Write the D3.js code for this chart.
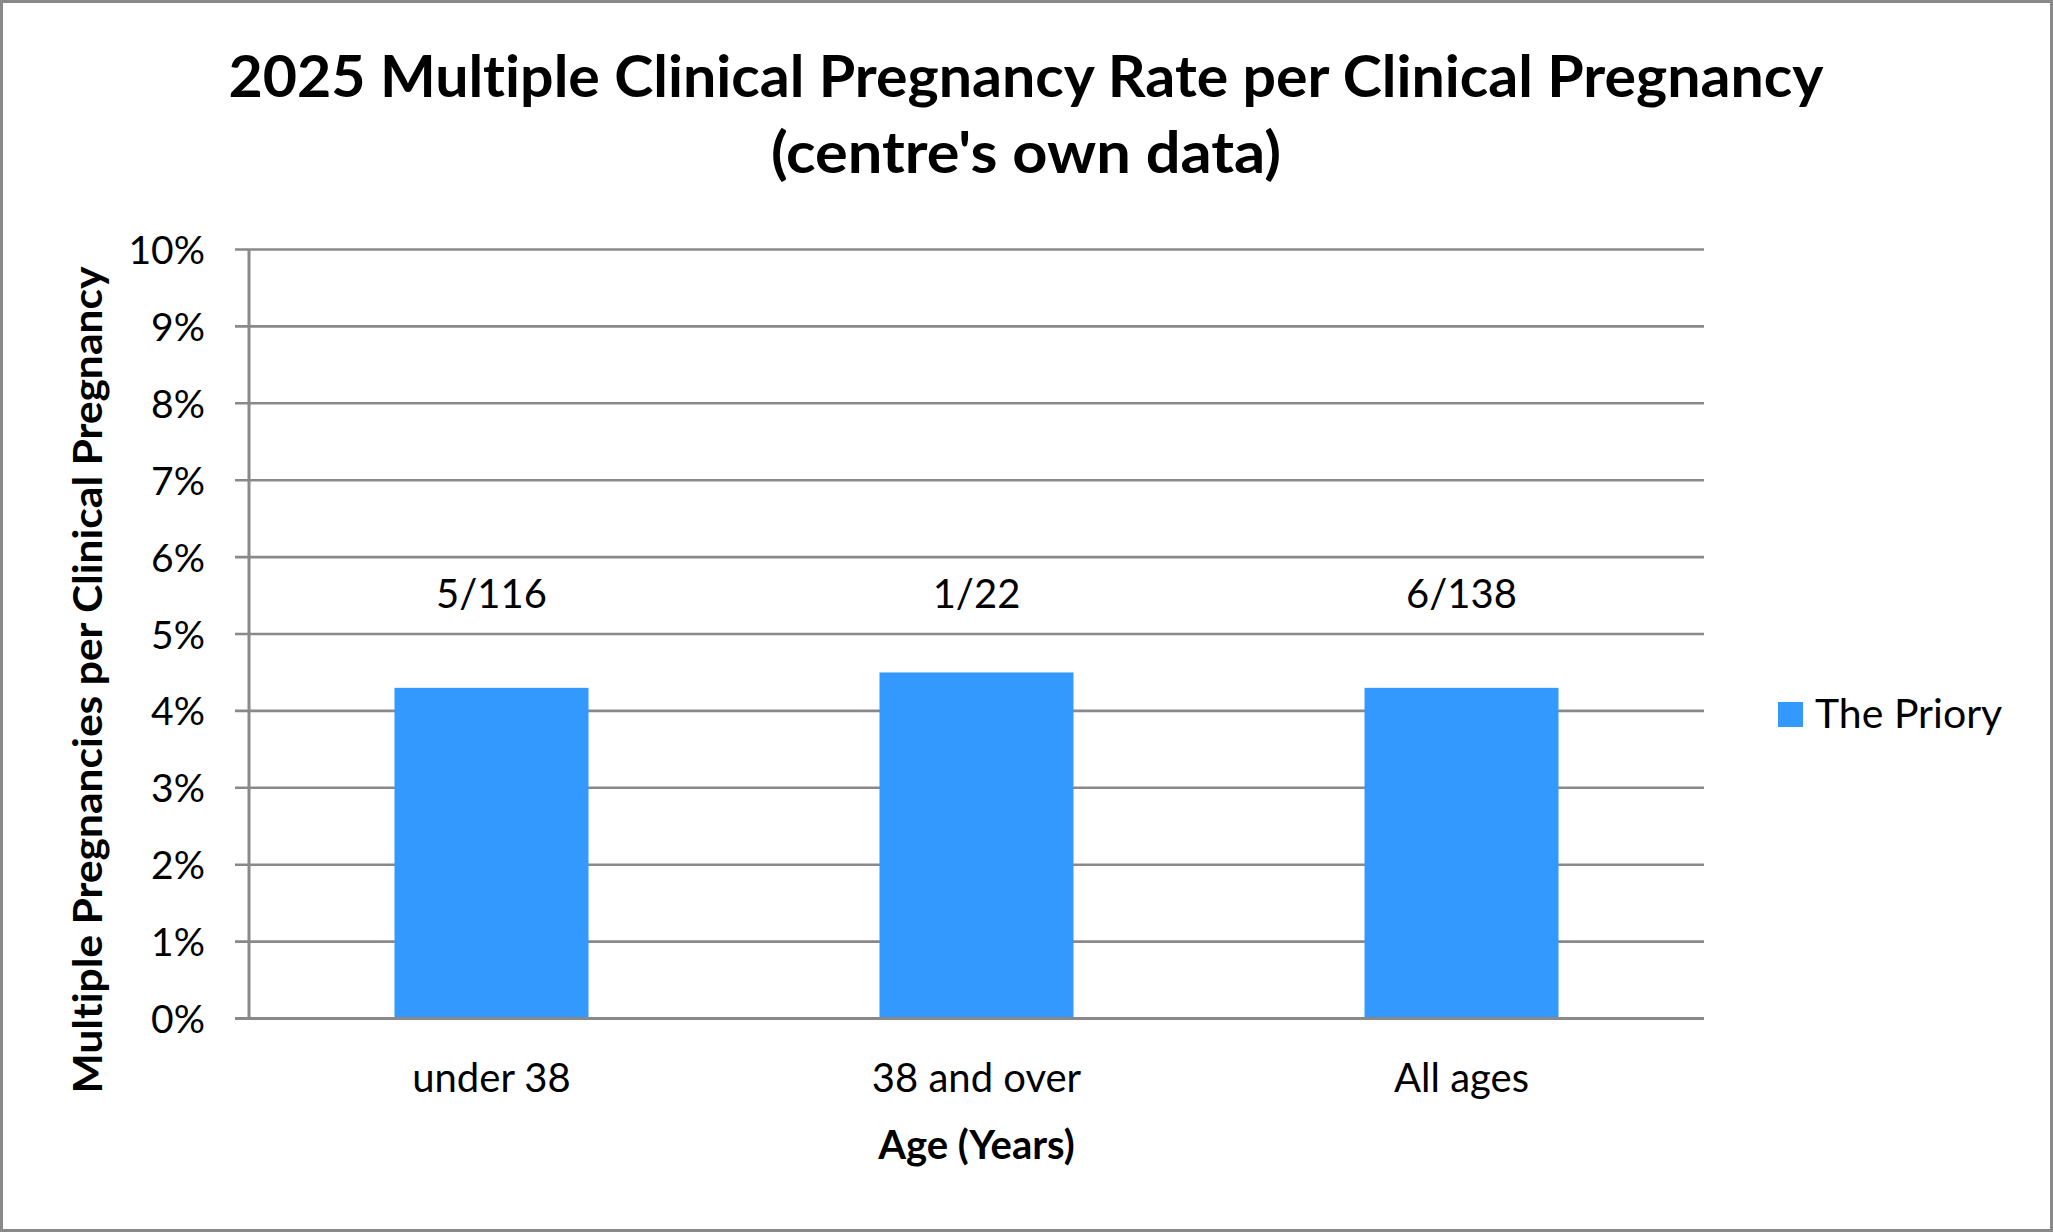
<!DOCTYPE html>
<meta charset="utf-8">
<style>
body {
  margin: 0;
  background: #fff;
}
svg text {
  font-family: Lato, Carlito, Calibri, sans-serif;
  font-variant-ligatures: none;
  fill: #000;
}
.grid line {
  stroke: #898989;
  stroke-width: 2.6;
}
.title {
  font-weight: 700;
  font-size: 58px;
}
.axis-title {
  font-weight: 700;
  font-size: 40px;
}
</style>
<body>
<svg width="2053" height="1232"></svg>
<script src="https://cdn.jsdelivr.net/npm/d3@7"></script>
<script>

// values
var categories = ["under 38", "38 and over", "All ages"];
var rates = [4.3, 4.5, 4.3];              // percent
var fractionLabels = ["5/116", "1/22", "6/138"];
var yTicks = [0, 1, 2, 3, 4, 5, 6, 7, 8, 9, 10];
var seriesName = "The Priory";

var svg = d3.select("svg"),
    width = +svg.attr("width"),
    height = +svg.attr("height");

var plotLeft = 249, plotRight = 1704, plotTop = 249.5, plotBottom = 1018.5;
var barColor = "#3399ff";
var gridColor = "#898989";

var data = categories.map(function(c, i) {
  return {cat: c, value: rates[i], label: fractionLabels[i]};
});

var x = d3.scaleBand()
    .domain(categories)
    .range([plotLeft, plotRight])
    .paddingInner(0.6)
    .paddingOuter(0.3);

var y = d3.scaleLinear()
    .domain([0, 10])
    .range([plotBottom, plotTop]);

// outer frame
svg.append("rect")
    .attr("x", 1.5).attr("y", 1.5)
    .attr("width", width - 3).attr("height", height - 3)
    .attr("fill", "#fff")
    .attr("stroke", gridColor)
    .attr("stroke-width", 3);

// title
svg.append("text")
    .attr("class", "title")
    .attr("x", 1026).attr("y", 97)
    .attr("text-anchor", "middle")
    .attr("textLength", 1595)
    .attr("lengthAdjust", "spacingAndGlyphs")
    .text("2025 Multiple Clinical Pregnancy Rate per Clinical Pregnancy");

svg.append("text")
    .attr("class", "title")
    .attr("x", 1026).attr("y", 173)
    .attr("text-anchor", "middle")
    .attr("textLength", 510)
    .attr("lengthAdjust", "spacingAndGlyphs")
    .text("(centre's own data)");

// gridlines, with the short tick stubs left of the axis
svg.append("g")
    .attr("class", "grid")
  .selectAll("line")
  .data(yTicks)
  .enter().append("line")
    .attr("x1", plotLeft - 14)
    .attr("x2", plotRight)
    .attr("y1", function(d) { return y(d); })
    .attr("y2", function(d) { return y(d); });

// y axis labels
var yAxis = svg.append("g")
    .attr("transform", "translate(" + plotLeft + ",0)")
    .call(d3.axisLeft(y)
      .tickValues(yTicks)
      .tickSize(0)
      .tickPadding(44)
      .tickFormat(function(d) { return d + "%"; }));
yAxis.select(".domain").remove();
yAxis.selectAll("text")
    .attr("dy", "0.36em")
    .style("font-size", "39px")
    .style("font-family", "Lato, Carlito, Calibri, sans-serif");

// bars
svg.append("g")
  .selectAll("rect")
  .data(data)
  .enter().append("rect")
    .attr("x", function(d) { return x(d.cat); })
    .attr("y", function(d) { return y(d.value); })
    .attr("width", x.bandwidth())
    .attr("height", function(d) { return y(0) - y(d.value); })
    .attr("fill", barColor);

// vertical axis line and baseline
svg.append("line")
    .attr("x1", plotLeft).attr("x2", plotLeft)
    .attr("y1", plotTop).attr("y2", plotBottom)
    .attr("stroke", gridColor).attr("stroke-width", 3);
svg.append("line")
    .attr("x1", plotLeft - 14).attr("x2", plotRight)
    .attr("y1", plotBottom).attr("y2", plotBottom)
    .attr("stroke", gridColor).attr("stroke-width", 3);

// fraction labels
svg.append("g")
  .selectAll("text")
  .data(data)
  .enter().append("text")
    .attr("x", function(d) { return x(d.cat) + x.bandwidth() / 2; })
    .attr("y", y(5) - 26)
    .attr("text-anchor", "middle")
    .style("font-size", "40px")
    .text(function(d) { return d.label; });

// x axis labels
var xAxis = svg.append("g")
    .attr("transform", "translate(0," + plotBottom + ")")
    .call(d3.axisBottom(x).tickSize(0).tickPadding(0));
xAxis.select(".domain").remove();
xAxis.selectAll("text")
    .attr("y", 73)
    .attr("dy", 0)
    .style("font-size", "40px")
    .style("font-family", "Lato, Carlito, Calibri, sans-serif");

// axis titles
svg.append("text")
    .attr("class", "axis-title")
    .attr("x", (plotLeft + plotRight) / 2)
    .attr("y", 1159)
    .attr("text-anchor", "middle")
    .text("Age (Years)");

svg.append("text")
    .attr("class", "axis-title")
    .attr("transform", "translate(102,680) rotate(-90)")
    .attr("text-anchor", "middle")
    .attr("textLength", 827)
    .attr("lengthAdjust", "spacingAndGlyphs")
    .text("Multiple Pregnancies per Clinical Pregnancy");

// legend
var legend = svg.append("g")
    .attr("transform", "translate(1778,702)");
legend.append("rect")
    .attr("width", 25).attr("height", 25)
    .attr("fill", barColor);
legend.append("text")
    .attr("x", 37).attr("y", 26)
    .style("font-size", "41px")
    .text(seriesName);

</script>
</body>
